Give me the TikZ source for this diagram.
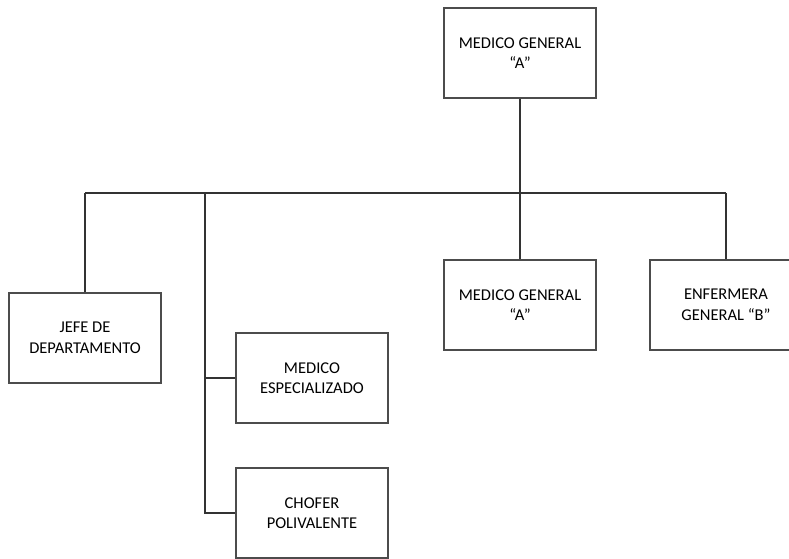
\documentclass[tikz,border=0pt]{standalone}
\usepackage{fontspec}
\setmainfont{Carlito}
\begin{document}
\begin{tikzpicture}[x=1pt,y=-1pt,
  orgbox/.style={draw=black!70, line width=1.1pt, fill=white, minimum width=152pt, minimum height=90pt, inner sep=0pt, align=center, font=\fontsize{16.5}{20.5}\selectfont},
  conn/.style={draw=black!80, line width=1.1pt}]
\useasboundingbox (0,0) rectangle (789,558);
\node[orgbox] (top) at (520,53) {MEDICO GENERAL\\“A”};
\node[orgbox] (jefe) at (85,338) {JEFE DE\\DEPARTAMENTO};
\node[orgbox] (esp) at (312,378) {MEDICO\\ESPECIALIZADO};
\node[orgbox] (chofer) at (312,513) {CHOFER\\POLIVALENTE};
\node[orgbox] (mg) at (520,305) {MEDICO GENERAL\\“A”};
\node[orgbox] (enf) at (726,305) {ENFERMERA\\GENERAL “B”};
\coordinate (busL) at (85,193);
\coordinate (busR) at (726,193);
\coordinate (sp) at (205,193);
\draw[conn] (busL) -- (busR);
\draw[conn] (top.south) -- (top.south |- busL);
\draw[conn] (jefe.north) -- (jefe.north |- busL);
\draw[conn] (mg.north) -- (mg.north |- busL);
\draw[conn] (enf.north) -- (enf.north |- busL);
\draw[conn] (sp) |- (chofer.west);
\draw[conn] (sp |- esp.west) -- (esp.west);
\end{tikzpicture}
\end{document}
